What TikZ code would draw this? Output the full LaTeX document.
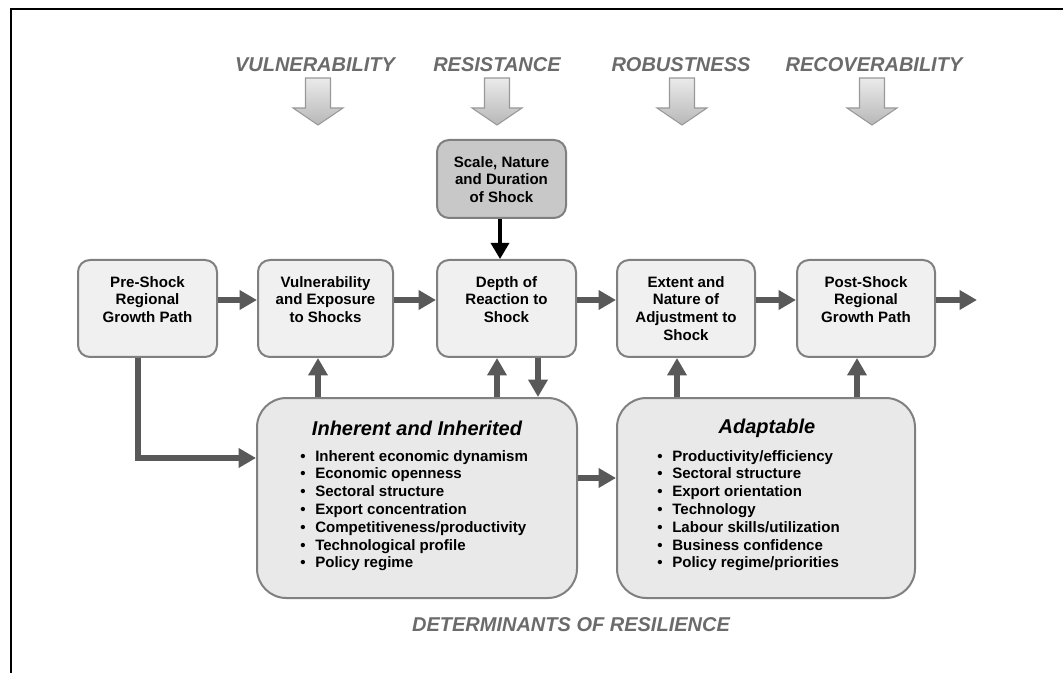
\documentclass[tikz,border=0pt]{standalone}
\usepackage{fontspec}
\setmainfont{Liberation Sans}
\usetikzlibrary{arrows.meta}

\definecolor{boxline}{HTML}{808080}
\definecolor{boxfill}{HTML}{F0F0F0}
\definecolor{bigfill}{HTML}{E9E9E9}
\definecolor{shockfill}{HTML}{C8C8C8}
\definecolor{arrowgray}{HTML}{595959}
\definecolor{headgray}{HTML}{6B6B6B}

\newcommand{\itm}[1]{\makebox[11.25pt][l]{•}#1}

\tikzset{
  stagebox/.style={draw=boxline, line width=1.5pt, fill=boxfill, rounded corners=9pt,
    minimum width=#1, minimum height=72.75pt, inner sep=0pt},
  stagetext/.style={anchor=north, align=center, inner sep=0pt,
    font={\bfseries\fontsize{11.3}{13.3}\selectfont}},
  detbox/.style={draw=boxline, line width=1.5pt, fill=bigfill, rounded corners=22pt,
    minimum width=#1, minimum height=150pt, inner sep=0pt},
  dettitle/.style={inner sep=0pt, font={\bfseries\itshape\fontsize{15}{18}\selectfont}},
  detlist/.style={anchor=north west, align=left, inner sep=0pt,
    font={\bfseries\fontsize{11.3}{13.35}\selectfont}},
  headtext/.style={inner sep=0pt, text=headgray,
    font={\bfseries\itshape\fontsize{15}{18}\selectfont}},
  hollow/.style={draw=black!40, line width=0.8pt, top color=black!8, bottom color=black!28},
  flow/.style={draw=arrowgray, line width=4pt, -{Triangle[length=13pt,width=14pt]}},
  shockarrow/.style={draw=black, line width=2.5pt, -{Triangle[length=12pt,width=13.5pt]}}
}

\begin{document}
\begin{tikzpicture}[x=0.75pt, y=-0.75pt]
  \useasboundingbox (0,0) rectangle (1063,673);

  % frame
  \draw[line width=2.2pt] (10,9) -- (1063,9);
  \draw[line width=1.6pt] (11,9) -- (11,673);

  % headings and hollow arrows
  \foreach \x/\lab/\name in {315/VULNERABILITY/vul, 497/RESISTANCE/res, 681/ROBUSTNESS/rob, 874/RECOVERABILITY/rec} {
    \node[headtext] (head-\name) at (\x,65) {\lab};
  }
  \foreach \x in {318,497,682,872} {
    \draw[hollow] (\x-12.5,78) -- (\x+12.5,78) -- (\x+12.5,108) -- (\x+25,108)
      -- (\x,125) -- (\x-25,108) -- (\x-12.5,108) -- cycle;
  }

  % shock
  \node[stagebox=96.75pt, minimum height=58.5pt, fill=shockfill] (shock) at (501.5,179) {};
  \node[stagetext] (shock-t) at (501.5,156) {Scale, Nature\\and Duration\\of Shock};

  % stages
  \node[stagebox=104.25pt] (pre) at (147.5,308.5) {};
  \node[stagebox=101.25pt] (vuln) at (325.5,308.5) {};
  \node[stagebox=104.25pt] (depth) at (506.5,308.5) {};
  \node[stagebox=103.5pt] (adjust) at (686,308.5) {};
  \node[stagebox=103.5pt] (post) at (866,308.5) {};

  \node[stagetext] (pre-t) at (147.5,276) {Pre-Shock\\Regional\\Growth Path};
  \node[stagetext] (vuln-t) at (325.5,276) {Vulnerability\\and Exposure\\to Shocks};
  \node[stagetext] (depth-t) at (506.5,276) {Depth of\\Reaction to\\Shock};
  \node[stagetext] (adjust-t) at (686,276) {Extent and\\Nature of\\Adjustment to\\Shock};
  \node[stagetext] (post-t) at (866,276) {Post-Shock\\Regional\\Growth Path};

  % determinants
  \node[detbox=240pt] (inh) at (417,498) {};
  \node[detbox=223.5pt] (adp) at (766,498) {};

  \node[dettitle] (inh-t) at (417,428) {Inherent and Inherited};
  \node[dettitle] (adp-t) at (767,428) {Adaptable};

  \node[detlist] (inh-l) at (300,450) {\itm{Inherent economic dynamism}\\
    \itm{Economic openness}\\ \itm{Sectoral structure}\\ \itm{Export concentration}\\
    \itm{Competitiveness/productivity}\\ \itm{Technological profile}\\ \itm{Policy regime}};
  \node[detlist] (adp-l) at (657,450) {\itm{Productivity/efficiency}\\
    \itm{Sectoral structure}\\ \itm{Export orientation}\\ \itm{Technology}\\
    \itm{Labour skills/utilization}\\ \itm{Business confidence}\\ \itm{Policy regime/priorities}};

  \node[headtext] (det) at (571,625) {DETERMINANTS OF RESILIENCE};

  % connectors
  \coordinate (row) at (0,300);
  \foreach \a/\b in {pre/vuln, vuln/depth, depth/adjust, adjust/post} {
    \draw[flow] (\a.east |- row) -- (\b.west |- row);
  }
  \coordinate (exit) at (977,300);
  \draw[flow] (post.east |- row) -- (exit);

  \coordinate (sx) at (500,0);
  \draw[shockarrow] (shock.south -| sx) -- (depth.north -| sx);

  \foreach \x/\a/\b in {318/inh/vuln, 497/inh/depth, 677/adp/adjust, 857/adp/post} {
    \coordinate (up) at (\x,0);
    \draw[flow] (\a.north -| up) -- (\b.south -| up);
  }
  \coordinate (down) at (538,0);
  \draw[flow] (depth.south -| down) -- (inh.north -| down);

  \coordinate (bend) at (138,458);
  \draw[flow] (pre.south -| bend) -- (bend) -- (inh.west |- bend);

  \coordinate (link) at (0,478);
  \draw[flow] (inh.east |- link) -- (adp.west |- link);
\end{tikzpicture}
\end{document}
